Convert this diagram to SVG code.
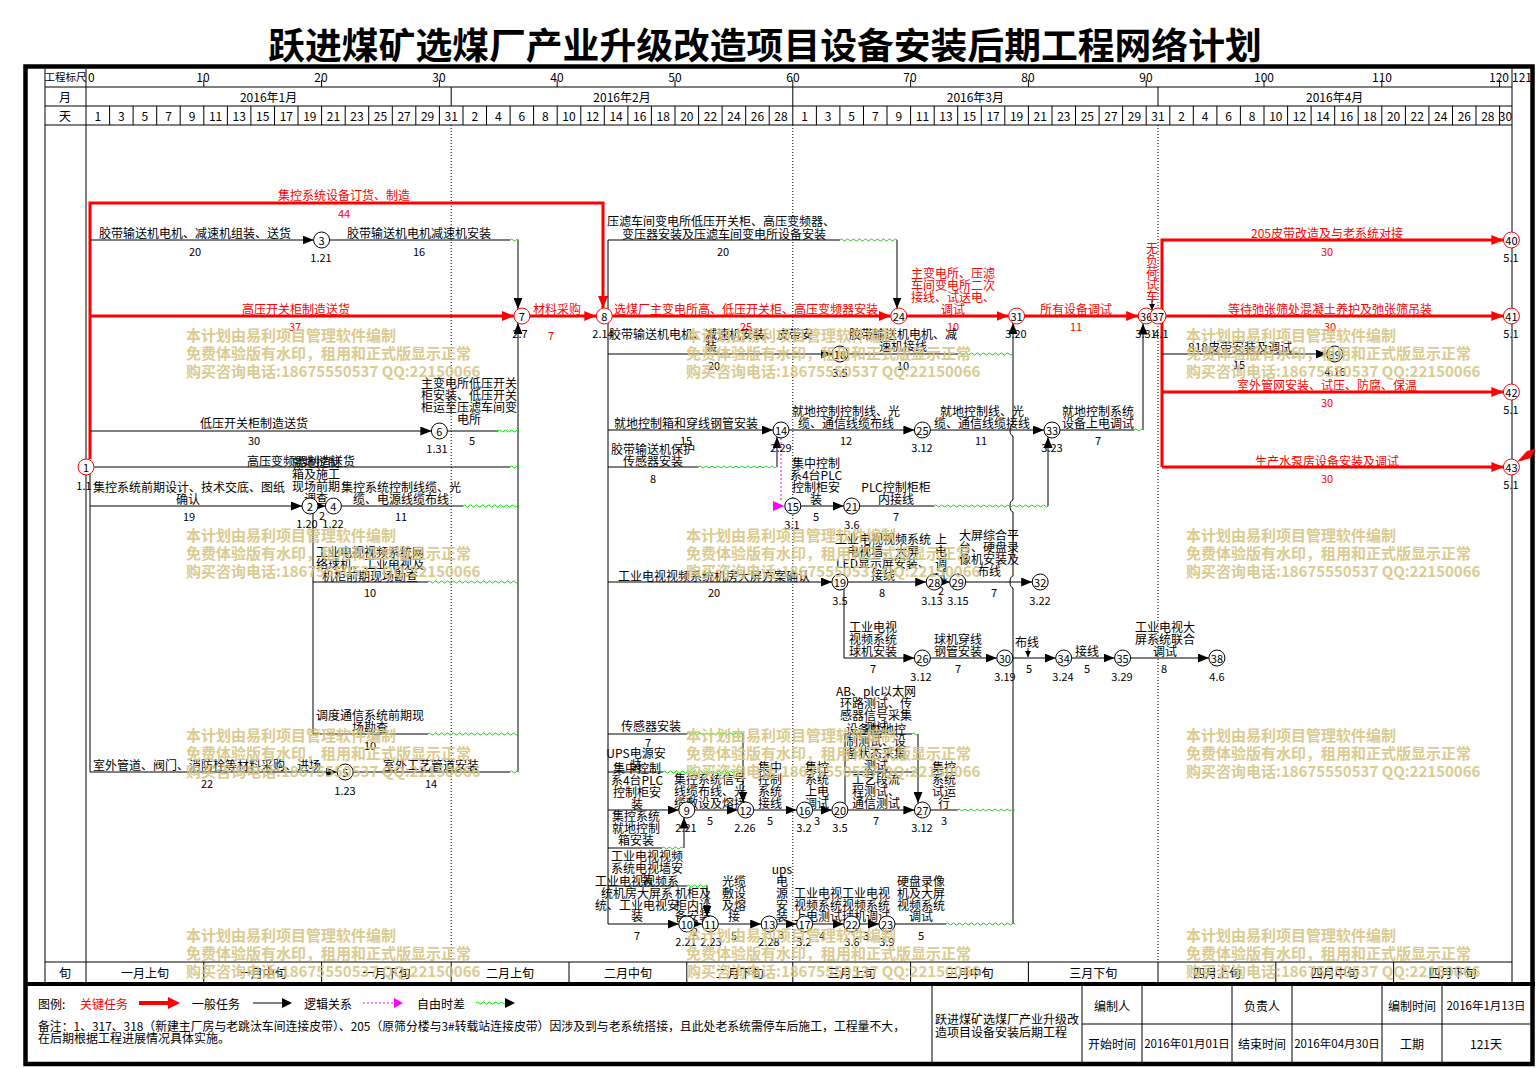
<svg xmlns="http://www.w3.org/2000/svg" width="1536" height="1068" viewBox="0 0 1536 1068">
<defs>
<style>
text{font-family:"Noto Sans CJK SC","Noto Sans",sans-serif;font-size:12px;fill:#000;text-anchor:middle;dominant-baseline:central}
.s{text-anchor:start}
.n{font-size:11px}
.r{fill:#f00}
.k{stroke:#000;stroke-width:1;fill:none}
.ka{stroke:#000;stroke-width:1;fill:none;marker-end:url(#ma)}
.kp{stroke:#000;stroke-width:1;fill:none;marker-end:url(#ms)}
.rd{stroke:#f00;stroke-width:3;fill:none}
.ra{stroke:#f00;stroke-width:3;fill:none;marker-end:url(#mr)}
.wv{stroke:#00e000;stroke-width:1;fill:none}
.dt{stroke:#000;stroke-width:1;stroke-dasharray:1 2;fill:none}
.nd circle{fill:#fff;stroke:#000;stroke-width:1}
.cr circle{stroke:#f00}
.wm{font-size:15px;font-weight:bold;fill:#d5c47f;fill-opacity:.9;text-anchor:start}
.title{font-size:36.8px;font-weight:bold}
.hd{font-size:11.5px}
</style>
<marker id="ma" markerUnits="userSpaceOnUse" markerWidth="11" markerHeight="9" refX="11" refY="4.5" orient="auto"><path d="M0,0L11,4.5L0,9z" fill="#000"/></marker>
<marker id="mr" markerUnits="userSpaceOnUse" markerWidth="12" markerHeight="10" refX="12" refY="5" orient="auto"><path d="M0,0L12,5L0,10z" fill="#f00"/></marker>
<marker id="ms" markerUnits="userSpaceOnUse" markerWidth="6" markerHeight="6" refX="6" refY="3" orient="auto"><path d="M0,0L6,3L0,6z" fill="#000"/></marker>
</defs>
<rect width="1536" height="1068" fill="#fff"/>
<text class="title" x="765" y="43">跃进煤矿选煤厂产业升级改造项目设备安装后期工程网络计划</text>

<g id="frame">
<rect x="25.5" y="66.5" width="1507" height="997.5" fill="none" stroke="#000" stroke-width="4.5"/>
<path d="M24,984H1535" stroke="#000" stroke-width="4"/>
<path class="k" d="M45,69V982M86,69V982M1512,69V982M45,87H1512M45,106H1512M45,125H1512M45,962H1512"/>
<path class="k" d="M203.8,80v7M321.6,80v7M439.4,80v7M557.2,80v7M675,80v7M792.8,80v7M910.6,80v7M1028.4,80v7M1146.2,80v7M1264,80v7M1381.8,80v7M1499.6,80v7"/>
<path class="k" d="M451.2,87v19M792.8,87v19M1158,87v19"/>
<path class="k" d="M109.6,106v19M133.1,106v19M156.7,106v19M180.2,106v19M203.8,106v19M227.4,106v19M250.9,106v19M274.5,106v19M298,106v19M321.6,106v19M345.2,106v19M368.7,106v19M392.3,106v19M415.8,106v19M439.4,106v19M463,106v19M486.5,106v19M510.1,106v19M533.6,106v19M557.2,106v19M580.8,106v19M604.3,106v19M627.9,106v19M651.4,106v19M675,106v19M698.6,106v19M722.1,106v19M745.7,106v19M769.2,106v19M792.8,106v19M816.4,106v19M839.9,106v19M863.5,106v19M887,106v19M910.6,106v19M934.2,106v19M957.7,106v19M981.3,106v19M1004.8,106v19M1028.4,106v19M1052,106v19M1075.5,106v19M1099.1,106v19M1122.6,106v19M1146.2,106v19M1169.8,106v19M1193.3,106v19M1216.9,106v19M1240.4,106v19M1264,106v19M1287.6,106v19M1311.1,106v19M1334.7,106v19M1358.2,106v19M1381.8,106v19M1405.4,106v19M1428.9,106v19M1452.5,106v19M1476,106v19M1499.6,106v19"/>
<path class="dt" d="M451.2,125V962M792.8,125V962M1158,125V962"/>
<path class="k" d="M203.8,962v20M321.6,962v20M451.2,962v20M569,962v20M686.8,962v20M792.8,962v20M910.6,962v20M1028.4,962v20M1158,962v20M1275.8,962v20M1393.6,962v20"/>
<path class="k" d="M932,986V1062M1082,986V1062M1142,986V1062M1232,986V1062M1292,986V1062M1382,986V1062M1442,986V1062M1082,1024H1530"/>
</g>

<g id="header">
<text x="65.5" y="76" style="font-size:10.5px">工程标尺</text>
<text x="65" y="96.5">月</text>
<text x="65" y="115.5">天</text>
<text x="65" y="972">旬</text>
<g class="hd">
<text class="s" x="88" y="76">0</text>
<text x="203" y="76">10</text><text x="321" y="76">20</text><text x="439" y="76">30</text><text x="557" y="76">40</text><text x="675" y="76">50</text><text x="793" y="76">60</text><text x="910" y="76">70</text><text x="1028" y="76">80</text><text x="1146" y="76">90</text><text x="1264" y="76">100</text><text x="1382" y="76">110</text><text x="1499" y="76">120</text><text x="1522" y="76">121</text>
<text x="268.6" y="96.5">2016年1月</text><text x="622" y="96.5">2016年2月</text><text x="975.4" y="96.5">2016年3月</text><text x="1334.7" y="96.5">2016年4月</text>
</g>
<g class="hd">
<text x="97.8" y="115.5">1</text><text x="121.3" y="115.5">3</text><text x="144.9" y="115.5">5</text><text x="168.5" y="115.5">7</text><text x="192" y="115.5">9</text><text x="215.6" y="115.5">11</text><text x="239.2" y="115.5">13</text><text x="262.7" y="115.5">15</text><text x="286.3" y="115.5">17</text><text x="309.8" y="115.5">19</text><text x="333.4" y="115.5">21</text><text x="357" y="115.5">23</text><text x="380.5" y="115.5">25</text><text x="404.1" y="115.5">27</text><text x="427.6" y="115.5">29</text><text x="451.2" y="115.5">31</text>
<text x="474.8" y="115.5">2</text><text x="498.3" y="115.5">4</text><text x="521.9" y="115.5">6</text><text x="545.4" y="115.5">8</text><text x="569" y="115.5">10</text><text x="592.6" y="115.5">12</text><text x="616.1" y="115.5">14</text><text x="639.7" y="115.5">16</text><text x="663.2" y="115.5">18</text><text x="686.8" y="115.5">20</text><text x="710.4" y="115.5">22</text><text x="733.9" y="115.5">24</text><text x="757.5" y="115.5">26</text><text x="781" y="115.5">28</text>
<text x="804.6" y="115.5">1</text><text x="828.2" y="115.5">3</text><text x="851.7" y="115.5">5</text><text x="875.3" y="115.5">7</text><text x="898.8" y="115.5">9</text><text x="922.4" y="115.5">11</text><text x="946" y="115.5">13</text><text x="969.5" y="115.5">15</text><text x="993.1" y="115.5">17</text><text x="1016.6" y="115.5">19</text><text x="1040.2" y="115.5">21</text><text x="1063.8" y="115.5">23</text><text x="1087.3" y="115.5">25</text><text x="1110.9" y="115.5">27</text><text x="1134.4" y="115.5">29</text><text x="1158" y="115.5">31</text>
<text x="1181.6" y="115.5">2</text><text x="1205.1" y="115.5">4</text><text x="1228.7" y="115.5">6</text><text x="1252.2" y="115.5">8</text><text x="1275.8" y="115.5">10</text><text x="1299.4" y="115.5">12</text><text x="1322.9" y="115.5">14</text><text x="1346.5" y="115.5">16</text><text x="1370" y="115.5">18</text><text x="1393.6" y="115.5">20</text><text x="1417.2" y="115.5">22</text><text x="1440.7" y="115.5">24</text><text x="1464.3" y="115.5">26</text><text x="1487.8" y="115.5">28</text><text x="1505.5" y="115.5">30</text>
</g>
<g>
<text x="144.9" y="972">一月上旬</text><text x="262.7" y="972">一月中旬</text><text x="386.4" y="972">一月下旬</text><text x="510.1" y="972">二月上旬</text><text x="627.9" y="972">二月中旬</text><text x="739.8" y="972">二月下旬</text><text x="851.7" y="972">三月上旬</text><text x="969.5" y="972">三月中旬</text><text x="1093.2" y="972">三月下旬</text><text x="1216.9" y="972">四月上旬</text><text x="1334.7" y="972">四月中旬</text><text x="1452.5" y="972">四月下旬</text>
</g>
</g>

<g id="connectors">
<path class="ra" d="M90,459V203H603V308"/>
<path class="ra" d="M90,316H513.9"/>
<path class="ra" d="M529.9,316H596.3"/>
<path class="ra" d="M612.3,316H890.8"/>
<path class="ra" d="M906.8,316H1008.6"/>
<path class="ra" d="M1024.6,316H1138.2"/>
<path class="ra" d="M1162,467V240H1503.4"/>
<path class="ra" d="M1166,316H1503.4"/>
<path class="ra" d="M1162,392H1503.4"/>
<path class="ra" d="M1162,467H1503.4"/>
<path class="ka" d="M90,240H313.6"/>
<path class="k" d="M329.6,240H510"/>
<path class="ka" d="M518,240V309"/>
<path class="ka" d="M90,431H431.4"/>
<path class="k" d="M447.4,431H498"/>
<path class="k" d="M94,467H510"/>
<path class="k" d="M90,467V772"/>
<path class="ka" d="M90,506H302"/>
<path class="ka" d="M318,506H325.4"/>
<path class="k" d="M341.4,506H463"/>
<path class="k" d="M313,513V734M313,582H428M313,734H428"/>
<path class="ka" d="M90,772H337.2"/>
<path class="k" d="M353.2,772H510"/>
<path class="ka" d="M518,772V323"/>
<path class="k" d="M608,240V924"/>
<path class="k" d="M608,240H840"/>
<path class="ka" d="M897,240V308.5"/>
<path class="ka" d="M608,354H831.9"/>
<path class="k" d="M847.9,354H958"/>
<path class="ka" d="M1013,924V588a3,6 0 0 1 0,-12V512a3,6 0 0 1 0,-12V436a3,6 0 0 1 0,-12V323"/>
<path class="ka" d="M608,430H773"/>
<path class="k" d="M608,467H698.6"/>
<path class="ka" d="M777,467V437"/>
<path class="ka" d="M789,430H914.4"/>
<path class="ka" d="M930.4,430H1044"/>
<path class="k" d="M1060,430H1134.4"/>
<path class="ka" d="M1143,430V323.5"/>
<path class="ka" d="M800.8,506H843.7"/>
<path class="k" d="M859.7,506H934.2"/>
<path class="ka" d="M1048,506V437"/>
<path class="ka" d="M608,582H831.9"/>
<path class="ka" d="M847.9,582H926.2"/>
<path class="ka" d="M942.2,582H949.7"/>
<path class="ka" d="M965.7,582H1032.2"/>
<path class="ka" d="M844,589V658H914.4"/>
<path class="ka" d="M930.4,658H996.8"/>
<path class="ka" d="M1012.8,658H1055.7"/>
<path class="ka" d="M1071.7,658H1114.6"/>
<path class="ka" d="M1130.6,658H1208.9"/>
<path class="ka" d="M1162,354H1326.7"/>
<path class="kp" d="M1152,300V310"/>
<path class="kp" d="M1028,648V657"/>
<path class="k" d="M608,734H686.8"/>
<path class="ka" d="M743,734V802.5"/>
<path class="k" d="M608,772H663"/>
<path class="ka" d="M608,810H678.8"/>
<path class="ka" d="M694.8,810H737.7"/>
<path class="k" d="M608,848H662"/>
<path class="ka" d="M684,848V817.5"/>
<path class="ka" d="M753.7,810H796.6"/>
<path class="ka" d="M812.6,810H831.9"/>
<path class="ka" d="M847.9,810H914.4"/>
<path class="k" d="M845,804V734H912M845,772H912"/>
<path class="ka" d="M918,734V803"/>
<path class="k" d="M930.4,810H957.7"/>
<path class="k" d="M608,886H687"/>
<path class="ka" d="M707,886V916.7"/>
<path class="ka" d="M608,924H678.8"/>
<path class="ka" d="M694.8,924H702.3"/>
<path class="ka" d="M718.3,924H761.2"/>
<path class="ka" d="M777.2,924H796.6"/>
<path class="ka" d="M812.6,924H843.7"/>
<path class="ka" d="M859.7,924H879"/>
<path class="k" d="M895,924H946"/>
<path d="M781,438V502" stroke="#f0f" stroke-width="1" stroke-dasharray="2 2" fill="none"/>
<polygon points="773,501 784.5,506 773,511" fill="#f0f"/>
<path class="wv" d="M510,240q1.5,-2 3,0t3,0t3,0M498,431q1.5,-2 3,0t3,0t3,0t3,0t3,0t3,0t3,0M510,467q1.5,-2 3,0t3,0t3,0M463,506q1.5,-2 3,0t3,0t3,0t3,0t3,0t3,0t3,0t3,0t3,0t3,0t3,0t3,0t3,0t3,0t3,0t3,0t3,0t3,0M428,582q1.5,-2 3,0t3,0t3,0t3,0t3,0t3,0t3,0t3,0t3,0t3,0t3,0t3,0t3,0t3,0t3,0t3,0t3,0t3,0t3,0t3,0t3,0t3,0t3,0t3,0t3,0t3,0t3,0t3,0t3,0t3,0M428,734q1.5,-2 3,0t3,0t3,0t3,0t3,0t3,0t3,0t3,0t3,0t3,0t3,0t3,0t3,0t3,0t3,0t3,0t3,0t3,0t3,0t3,0t3,0t3,0t3,0t3,0t3,0t3,0t3,0t3,0t3,0t3,0M510,772q1.5,-2 3,0t3,0t3,0"/>
<path class="wv" d="M840,240q1.5,-2 3,0t3,0t3,0t3,0t3,0t3,0t3,0t3,0t3,0t3,0t3,0t3,0t3,0t3,0t3,0t3,0t3,0t3,0t3,0M958,354q1.5,-2 3,0t3,0t3,0t3,0t3,0t3,0t3,0t3,0t3,0t3,0t3,0t3,0t3,0t3,0t3,0t3,0t3,0t3,0M698.6,467q1.5,-2 3,0t3,0t3,0t3,0t3,0t3,0t3,0t3,0t3,0t3,0t3,0t3,0t3,0t3,0t3,0t3,0t3,0t3,0t3,0t3,0t3,0t3,0t3,0t3,0t3,0t3,0M934.2,506q1.5,-2 3,0t3,0t3,0t3,0t3,0t3,0t3,0t3,0t3,0t3,0t3,0t3,0t3,0t3,0t3,0t3,0t3,0t3,0t3,0t3,0t3,0t3,0t3,0t3,0t3,0t3,0t3,0t3,0t3,0t3,0t3,0t3,0t3,0t3,0t3,0t3,0t3,0t3,0M1134.4,430q1.5,-2 3,0t3,0t3,0"/>
<path class="wv" d="M686.8,734q1.5,-2 3,0t3,0t3,0t3,0t3,0t3,0t3,0t3,0t3,0t3,0t3,0t3,0t3,0t3,0t3,0t3,0t3,0t3,0t3,0M663,772q1.5,-2 3,0t3,0t3,0t3,0t3,0t3,0t3,0t3,0t3,0t3,0t3,0t3,0t3,0t3,0t3,0t3,0t3,0t3,0t3,0t3,0t3,0t3,0t3,0t3,0t3,0t3,0t3,0M662,848q1.5,-2 3,0t3,0t3,0t3,0t3,0t3,0t3,0M687,886q1.5,-2 3,0t3,0t3,0t3,0t3,0t3,0t3,0M912,734q1.5,-2 3,0t3,0M912,772q1.5,-2 3,0t3,0M957.7,810q1.5,-2 3,0t3,0t3,0t3,0t3,0t3,0t3,0t3,0t3,0t3,0t3,0t3,0t3,0t3,0t3,0t3,0t3,0t3,0t3,0M946,924q1.5,-2 3,0t3,0t3,0t3,0t3,0t3,0t3,0t3,0t3,0t3,0t3,0t3,0t3,0t3,0t3,0t3,0t3,0t3,0t3,0t3,0t3,0t3,0t3,0"/>
</g>

<g id="labels">
<text class="r" x="344" y="194">集控系统设备订货、制造</text><text class="r n" x="344" y="213">44</text>
<text x="195" y="232">胶带输送机电机、减速机组装、送货</text><text class="n" x="195" y="251">20</text>
<text x="419" y="232">胶带输送机电机减速机安装</text><text class="n" x="419" y="251">16</text>
<text class="r" x="296" y="308">高压开关柜制造送货</text><text class="r n" x="295" y="326">37</text>
<text class="r" x="557" y="308">材料采购</text><text class="r n" x="551" y="335">7</text>
<text x="469" y="382">主变电所低压开关</text><text x="469" y="394">柜安装、低压开关</text><text x="469" y="406">柜运至压滤车间变</text><text x="469" y="418">电所</text><text class="n" x="472" y="440">5</text>
<text x="254" y="422">低压开关柜制造送货</text><text class="n" x="254" y="440">30</text>
<text x="301" y="460">高压变频器制造送货</text>
<text x="316" y="461">就地控制</text><text x="316" y="473">箱及施工</text><text x="316" y="485">现场前期</text><text x="316" y="497">调查</text><text class="n" x="322" y="515">2</text>
<text x="189" y="486">集控系统前期设计、技术交底、图纸</text><text x="188" y="498">确认</text><text class="n" x="189" y="516">19</text>
<text x="401" y="486">集控系统控制线缆、光</text><text x="401" y="498">缆、电源线缆布线</text><text class="n" x="401" y="516">11</text>
<text x="370" y="551">工业电视视频系统网</text><text x="370" y="563">络球机、工业电视及</text><text x="370" y="575">机柜前期现场勘查</text><text class="n" x="370" y="592">10</text>
<text x="370" y="714">调度通信系统前期现</text><text x="370" y="726">场勘查</text><text class="n" x="370" y="745">10</text>
<text x="207" y="764">室外管道、阀门、消防栓等材料采购、进场</text><text class="n" x="207" y="783">22</text>
<text x="431" y="764">室外工艺管道安装</text><text class="n" x="431" y="783">14</text>

<text x="721" y="220">压滤车间变电所低压开关柜、高压变频器、</text><text x="724" y="233">变压器安装及压滤车间变电所设备安装</text><text class="n" x="723" y="251">20</text>
<text class="r" x="746" y="308">选煤厂主变电所高、低压开关柜、高压变频器安装</text><text class="r n" x="746" y="326">25</text>
<text class="r" x="953" y="272">主变电所、压滤</text><text class="r" x="953" y="284">车间变电所二次</text><text class="r" x="953" y="296">接线、试送电、</text><text class="r" x="953" y="308">调试</text><text class="r n" x="953" y="326">10</text>
<text class="r" x="1076" y="308">所有设备调试</text><text class="r n" x="1076" y="326">11</text>
<text class="r" x="1152" y="247">无</text><text class="r" x="1152" y="259">负</text><text class="r" x="1152" y="271">荷</text><text class="r" x="1152" y="283">试</text><text class="r" x="1152" y="295">车</text>
<text x="711" y="333">胶带输送机电机、减速机安装、皮带安</text><text x="711" y="345">装</text><text class="n" x="714" y="365">20</text>
<text x="903" y="333">胶带输送机电机、减</text><text x="903" y="345">速机接线</text><text class="n" x="903" y="365">10</text>
<text x="686" y="422">就地控制箱和穿线钢管安装</text><text class="n" x="686" y="440">15</text>
<text x="653" y="448">胶带输送机保护</text><text x="653" y="460">传感器安装</text><text class="n" x="653" y="478">8</text>
<text x="846" y="410">就地控制控制线、光</text><text x="846" y="422">缆、通信线缆布线</text><text class="n" x="846" y="440">12</text>
<text x="982" y="410">就地控制线、光</text><text x="982" y="422">缆、通信线缆接线</text><text class="n" x="981" y="440">11</text>
<text x="1098" y="410">就地控制系统</text><text x="1098" y="422">设备上电调试</text><text class="n" x="1098" y="440">7</text>
<text x="816" y="462">集中控制</text><text x="816" y="474">系4台PLC</text><text x="816" y="486">控制柜安</text><text x="816" y="498">装</text><text class="n" x="816" y="516">5</text>
<text x="896" y="486">PLC控制柜柜</text><text x="896" y="498">内接线</text><text class="n" x="896" y="516">7</text>
<text x="714" y="575">工业电视视频系统机房大屏方案确认</text><text class="n" x="714" y="592">20</text>
<text x="883" y="538">工业电视视频系统</text><text x="883" y="550">电视墙、大屏</text><text x="883" y="562">LED显示屏安装、</text><text x="883" y="574">接线</text><text class="n" x="882" y="592">8</text>
<text x="941" y="538">上</text><text x="941" y="550">电</text><text x="941" y="562">调</text><text x="941" y="574">试</text><text class="n" x="941" y="590">2</text>
<text x="989" y="534">大屏综合平</text><text x="989" y="546">台、硬盘录</text><text x="989" y="558">像机安装及</text><text x="989" y="570">布线</text><text class="n" x="994" y="592">7</text>
<text x="873" y="626">工业电视</text><text x="873" y="638">视频系统</text><text x="873" y="650">球机安装</text><text class="n" x="873" y="668">7</text>
<text x="958" y="638">球机穿线</text><text x="958" y="650">钢管安装</text><text class="n" x="958" y="668">7</text>
<text x="1027" y="641">布线</text><text class="n" x="1029" y="668">5</text>
<text x="1087" y="650">接线</text><text class="n" x="1087" y="668">5</text>
<text x="1165" y="626">工业电视大</text><text x="1165" y="638">屏系统联合</text><text x="1165" y="650">调试</text><text class="n" x="1164" y="668">8</text>

<text x="876" y="690">AB、plc以太网</text><text x="876" y="702">环路测试、传</text><text x="876" y="714">感器信号采集</text><text x="876" y="726">测试</text>
<text x="876" y="728">设备就地控</text><text x="876" y="740">制测试、设</text><text x="876" y="752">备状态采集</text><text x="876" y="764">测试</text>
<text x="651" y="725">传感器安装</text><text class="n" x="648" y="742">7</text>
<text x="636" y="752">UPS电源安</text><text x="636" y="764">装</text>
<text x="637" y="767">集中控制</text><text x="637" y="779">系4台PLC</text><text x="637" y="791">控制柜安</text><text x="637" y="803">装</text>
<text x="710" y="778">集控系统信号</text><text x="710" y="790">线缆布线、光</text><text x="710" y="802">缆敷设及熔接</text><text class="n" x="710" y="820">5</text>
<text x="770" y="766">集中</text><text x="770" y="778">控制</text><text x="770" y="790">系统</text><text x="770" y="802">接线</text><text class="n" x="770" y="820">5</text>
<text x="817" y="766">集控</text><text x="817" y="778">系统</text><text x="817" y="790">上电</text><text x="817" y="802">调试</text><text class="n" x="817" y="820">3</text>
<text x="876" y="778">工艺段流</text><text x="876" y="790">程测试、</text><text x="876" y="802">通信测试</text><text class="n" x="876" y="820">7</text>
<text x="944" y="766">集控</text><text x="944" y="778">系统</text><text x="944" y="790">试运</text><text x="944" y="802">行</text><text class="n" x="944" y="820">3</text>
<text x="636" y="815">集控系统</text><text x="636" y="827">就地控制</text><text x="636" y="839">箱安装</text>
<text x="647" y="855">工业电视视频</text><text x="647" y="867">系统电视墙安</text><text x="647" y="878">装</text>
<text x="637" y="880">工业电视视频系</text><text x="637" y="892">统机房大屏系</text><text x="637" y="904">统、工业电视安</text><text x="637" y="915">装</text><text class="n" x="637" y="935">7</text>
<text x="693" y="892">机柜及</text><text x="693" y="904">柜内设</text><text x="693" y="915">备安装</text><text class="n" x="695" y="931">2</text>
<text x="734" y="880">光缆</text><text x="734" y="892">敷设</text><text x="734" y="904">及熔</text><text x="734" y="915">接</text><text class="n" x="734" y="935">5</text>
<text x="782" y="868">ups</text><text x="782" y="880">电</text><text x="782" y="892">源</text><text x="782" y="904">安</text><text x="782" y="915">装</text><text class="n" x="781" y="934">3</text>
<text x="818" y="892">工业电视</text><text x="818" y="904">视频系统</text><text x="818" y="915">上电测试</text><text class="n" x="822" y="935">4</text>
<text x="866" y="892">工业电视</text><text x="866" y="904">视频系统</text><text x="866" y="915">球机调试</text><text class="n" x="866" y="935">3</text>
<text x="921" y="880">硬盘录像</text><text x="921" y="892">机及大屏</text><text x="921" y="904">视频系统</text><text x="921" y="915">调试</text><text class="n" x="921" y="935">5</text>

<text class="r" x="1327" y="232">205皮带改造及与老系统对接</text><text class="r n" x="1327" y="251">30</text>
<text class="r" x="1330" y="308">等待弛张筛处混凝土养护及弛张筛吊装</text><text class="r n" x="1330" y="326">30</text>
<text x="1240" y="346">818皮带安装及调试</text><text class="n" x="1239" y="364">15</text>
<text class="r" x="1327" y="384">室外管网安装、试压、防腐、保温</text><text class="r n" x="1327" y="402">30</text>
<text class="r" x="1327" y="460">生产水泵房设备安装及调试</text><text class="r n" x="1327" y="478">30</text>
<polygon points="1517,462 1527,451 1535,449 1531,458" fill="#f00"/>
</g>

<g id="nodes" class="nd">
<g id="n1" class="cr"><circle cx="86" cy="467" r="8"/><text class="n" x="86" y="467">1</text><text class="n" x="84" y="485">1.1</text></g>
<g id="n2"><circle cx="310" cy="506" r="8"/><text class="n" x="310" y="506">2</text><text class="n" x="307" y="523">1.20</text></g>
<g id="n3"><circle cx="321.6" cy="240" r="8"/><text class="n" x="321.6" y="240">3</text><text class="n" x="321" y="257">1.21</text></g>
<g id="n4"><circle cx="333.4" cy="506" r="8"/><text class="n" x="333.4" y="506">4</text><text class="n" x="333" y="523">1.22</text></g>
<g id="n5"><circle cx="345.2" cy="772" r="8"/><text class="n" x="345.2" y="772">5</text><text class="n" x="345" y="790">1.23</text></g>
<g id="n6"><circle cx="439.4" cy="431" r="8"/><text class="n" x="439.4" y="431">6</text><text class="n" x="437" y="448">1.31</text></g>
<g id="n7" class="cr"><circle cx="521.9" cy="316" r="8"/><text class="n" x="521.9" y="316">7</text><text class="n" x="520" y="333">2.7</text></g>
<g id="n8" class="cr"><circle cx="604.3" cy="316" r="8"/><text class="n" x="604.3" y="316">8</text><text class="n" x="603" y="333">2.14</text></g>
<g id="n9"><circle cx="686.8" cy="810" r="8"/><text class="n" x="686.8" y="810">9</text><text class="n" x="686" y="827">2.21</text></g>
<g id="n10"><circle cx="686.8" cy="924" r="8"/><text class="n" x="686.8" y="924">10</text><text class="n" x="686" y="941">2.21</text></g>
<g id="n11"><circle cx="710.3" cy="924" r="8"/><text class="n" x="710.3" y="924">11</text><text class="n" x="711" y="941">2.23</text></g>
<g id="n12"><circle cx="745.7" cy="810" r="8"/><text class="n" x="745.7" y="810">12</text><text class="n" x="745" y="827">2.26</text></g>
<g id="n13"><circle cx="769.2" cy="924" r="8"/><text class="n" x="769.2" y="924">13</text><text class="n" x="769" y="941">2.28</text></g>
<g id="n14"><circle cx="781" cy="430" r="8"/><text class="n" x="781" y="430">14</text><text class="n" x="781" y="447">2.29</text></g>
<g id="n15"><circle cx="792.8" cy="506" r="8"/><text class="n" x="792.8" y="506">15</text><text class="n" x="792" y="524">3.1</text></g>
<g id="n16"><circle cx="804.6" cy="810" r="8"/><text class="n" x="804.6" y="810">16</text><text class="n" x="804" y="827">3.2</text></g>
<g id="n17"><circle cx="804.6" cy="924" r="8"/><text class="n" x="804.6" y="924">17</text><text class="n" x="804" y="941">3.2</text></g>
<g id="n18"><circle cx="839.9" cy="354" r="8"/><text class="n" x="839.9" y="354">18</text><text class="n" x="840" y="372">3.5</text></g>
<g id="n19"><circle cx="839.9" cy="582" r="8"/><text class="n" x="839.9" y="582">19</text><text class="n" x="840" y="600">3.5</text></g>
<g id="n20"><circle cx="839.9" cy="810" r="8"/><text class="n" x="839.9" y="810">20</text><text class="n" x="840" y="827">3.5</text></g>
<g id="n21"><circle cx="851.7" cy="506" r="8"/><text class="n" x="851.7" y="506">21</text><text class="n" x="852" y="524">3.6</text></g>
<g id="n22"><circle cx="851.7" cy="924" r="8"/><text class="n" x="851.7" y="924">22</text><text class="n" x="852" y="941">3.6</text></g>
<g id="n23"><circle cx="887" cy="924" r="8"/><text class="n" x="887" y="924">23</text><text class="n" x="887" y="941">3.9</text></g>
<g id="n24" class="cr"><circle cx="898.8" cy="316" r="8"/><text class="n" x="898.8" y="316">24</text></g>
<g id="n25"><circle cx="922.4" cy="430" r="8"/><text class="n" x="922.4" y="430">25</text><text class="n" x="922" y="447">3.12</text></g>
<g id="n26"><circle cx="922.4" cy="658" r="8"/><text class="n" x="922.4" y="658">26</text><text class="n" x="921" y="676">3.12</text></g>
<g id="n27"><circle cx="922.4" cy="810" r="8"/><text class="n" x="922.4" y="810">27</text><text class="n" x="922" y="827">3.12</text></g>
<g id="n28"><circle cx="934.2" cy="582" r="8"/><text class="n" x="934.2" y="582">28</text><text class="n" x="932" y="600">3.13</text></g>
<g id="n29"><circle cx="957.7" cy="582" r="8"/><text class="n" x="957.7" y="582">29</text><text class="n" x="958" y="600">3.15</text></g>
<g id="n30"><circle cx="1004.8" cy="658" r="8"/><text class="n" x="1004.8" y="658">30</text><text class="n" x="1005" y="676">3.19</text></g>
<g id="n31" class="cr"><circle cx="1016.6" cy="316" r="8"/><text class="n" x="1016.6" y="316">31</text><text class="n" x="1016" y="333">3.20</text></g>
<g id="n32"><circle cx="1040.2" cy="582" r="8"/><text class="n" x="1040.2" y="582">32</text><text class="n" x="1040" y="600">3.22</text></g>
<g id="n33"><circle cx="1052" cy="430" r="8"/><text class="n" x="1052" y="430">33</text><text class="n" x="1052" y="447">3.23</text></g>
<g id="n34"><circle cx="1063.7" cy="658" r="8"/><text class="n" x="1063.7" y="658">34</text><text class="n" x="1063" y="676">3.24</text></g>
<g id="n35"><circle cx="1122.6" cy="658" r="8"/><text class="n" x="1122.6" y="658">35</text><text class="n" x="1122" y="676">3.29</text></g>
<g id="n36" class="cr"><circle cx="1146.2" cy="316" r="8"/><text class="n" x="1146.2" y="316">36</text><text class="n" x="1146" y="333">3.31</text></g>
<g id="n37" class="cr"><circle cx="1158" cy="316" r="8"/><text class="n" x="1158" y="316">37</text><text class="n" x="1161" y="333">4.1</text></g>
<g id="n38"><circle cx="1216.9" cy="658" r="8"/><text class="n" x="1216.9" y="658">38</text><text class="n" x="1217" y="676">4.6</text></g>
<g id="n39"><circle cx="1334.7" cy="354" r="8"/><text class="n" x="1334.7" y="354">39</text><text class="n" x="1335" y="371">4.16</text></g>
<g id="n40" class="cr"><circle cx="1511.4" cy="240" r="8"/><text class="n" x="1511.4" y="240">40</text><text class="n" x="1511" y="257">5.1</text></g>
<g id="n41" class="cr"><circle cx="1511.4" cy="316" r="8"/><text class="n" x="1511.4" y="316">41</text><text class="n" x="1511" y="333">5.1</text></g>
<g id="n42" class="cr"><circle cx="1511.4" cy="392" r="8"/><text class="n" x="1511.4" y="392">42</text><text class="n" x="1511" y="409">5.1</text></g>
<g id="n43" class="cr"><circle cx="1511.4" cy="467" r="8"/><text class="n" x="1511.4" y="467">43</text><text class="n" x="1511" y="484">5.1</text></g>
</g>

<g id="legend">
<text class="s" x="38" y="1003">图例:</text>
<text class="s r" x="80" y="1003">关键任务</text>
<path d="M139,1003H170" stroke="#f00" stroke-width="4"/><polygon points="168,997 180,1003 168,1009" fill="#f00"/>
<text class="s" x="192" y="1003">一般任务</text>
<path class="k" d="M253,1003H283"/><polygon points="282,998 292,1003 282,1008"/>
<text class="s" x="304" y="1003">逻辑关系</text>
<path d="M363,1003H395" stroke="#f0f" stroke-dasharray="2 2"/><polygon points="394,998 403,1003 394,1008" fill="#f0f"/>
<text class="s" x="417" y="1003">自由时差</text>
<path class="wv" d="M476,1003q1.5,-2 3,0t3,0t3,0t3,0t3,0t3,0t3,0t3,0t3,0t3,0"/><polygon points="505,998 515,1003 505,1008"/>
<text class="s" x="38" y="1025" textLength="867" lengthAdjust="spacingAndGlyphs">备注：1、317、318（新建主厂房与老跳汰车间连接皮带）、205（原筛分楼与3#转载站连接皮带）因涉及到与老系统搭接，且此处老系统需停车后施工，工程量不大，</text>
<text class="s" x="38" y="1037">在后期根据工程进展情况具体实施。</text>
<text class="s" x="935" y="1018">跃进煤矿选煤厂产业升级改</text>
<text class="s" x="935" y="1031">造项目设备安装后期工程</text>
<text x="1112" y="1005">编制人</text><text x="1262" y="1005">负责人</text><text x="1412" y="1005">编制时间</text><text x="1486" y="1005" style="font-size:11.5px">2016年1月13日</text>
<text x="1112" y="1043">开始时间</text><text x="1187" y="1043" style="font-size:11.5px">2016年01月01日</text><text x="1262" y="1043">结束时间</text><text x="1337" y="1043" style="font-size:11.5px">2016年04月30日</text><text x="1412" y="1043">工期</text><text x="1486" y="1043">121天</text>
</g>

<g id="watermark" class="wm">
<text class="wm" x="186" y="334">本计划由易利项目管理软件编制</text><text class="wm" x="186" y="352">免费体验版有水印，租用和正式版显示正常</text><text class="wm" x="186" y="370">购买咨询电话:18675550537 QQ:22150066</text>
<text class="wm" x="686" y="334">本计划由易利项目管理软件编制</text><text class="wm" x="686" y="352">免费体验版有水印，租用和正式版显示正常</text><text class="wm" x="686" y="370">购买咨询电话:18675550537 QQ:22150066</text>
<text class="wm" x="1186" y="334">本计划由易利项目管理软件编制</text><text class="wm" x="1186" y="352">免费体验版有水印，租用和正式版显示正常</text><text class="wm" x="1186" y="370">购买咨询电话:18675550537 QQ:22150066</text>
<text class="wm" x="186" y="534">本计划由易利项目管理软件编制</text><text class="wm" x="186" y="552">免费体验版有水印，租用和正式版显示正常</text><text class="wm" x="186" y="570">购买咨询电话:18675550537 QQ:22150066</text>
<text class="wm" x="686" y="534">本计划由易利项目管理软件编制</text><text class="wm" x="686" y="552">免费体验版有水印，租用和正式版显示正常</text><text class="wm" x="686" y="570">购买咨询电话:18675550537 QQ:22150066</text>
<text class="wm" x="1186" y="534">本计划由易利项目管理软件编制</text><text class="wm" x="1186" y="552">免费体验版有水印，租用和正式版显示正常</text><text class="wm" x="1186" y="570">购买咨询电话:18675550537 QQ:22150066</text>
<text class="wm" x="186" y="734">本计划由易利项目管理软件编制</text><text class="wm" x="186" y="752">免费体验版有水印，租用和正式版显示正常</text><text class="wm" x="186" y="770">购买咨询电话:18675550537 QQ:22150066</text>
<text class="wm" x="686" y="734">本计划由易利项目管理软件编制</text><text class="wm" x="686" y="752">免费体验版有水印，租用和正式版显示正常</text><text class="wm" x="686" y="770">购买咨询电话:18675550537 QQ:22150066</text>
<text class="wm" x="1186" y="734">本计划由易利项目管理软件编制</text><text class="wm" x="1186" y="752">免费体验版有水印，租用和正式版显示正常</text><text class="wm" x="1186" y="770">购买咨询电话:18675550537 QQ:22150066</text>
<text class="wm" x="186" y="934">本计划由易利项目管理软件编制</text><text class="wm" x="186" y="952">免费体验版有水印，租用和正式版显示正常</text><text class="wm" x="186" y="970">购买咨询电话:18675550537 QQ:22150066</text>
<text class="wm" x="686" y="934">本计划由易利项目管理软件编制</text><text class="wm" x="686" y="952">免费体验版有水印，租用和正式版显示正常</text><text class="wm" x="686" y="970">购买咨询电话:18675550537 QQ:22150066</text>
<text class="wm" x="1186" y="934">本计划由易利项目管理软件编制</text><text class="wm" x="1186" y="952">免费体验版有水印，租用和正式版显示正常</text><text class="wm" x="1186" y="970">购买咨询电话:18675550537 QQ:22150066</text>
</g>
</svg>
